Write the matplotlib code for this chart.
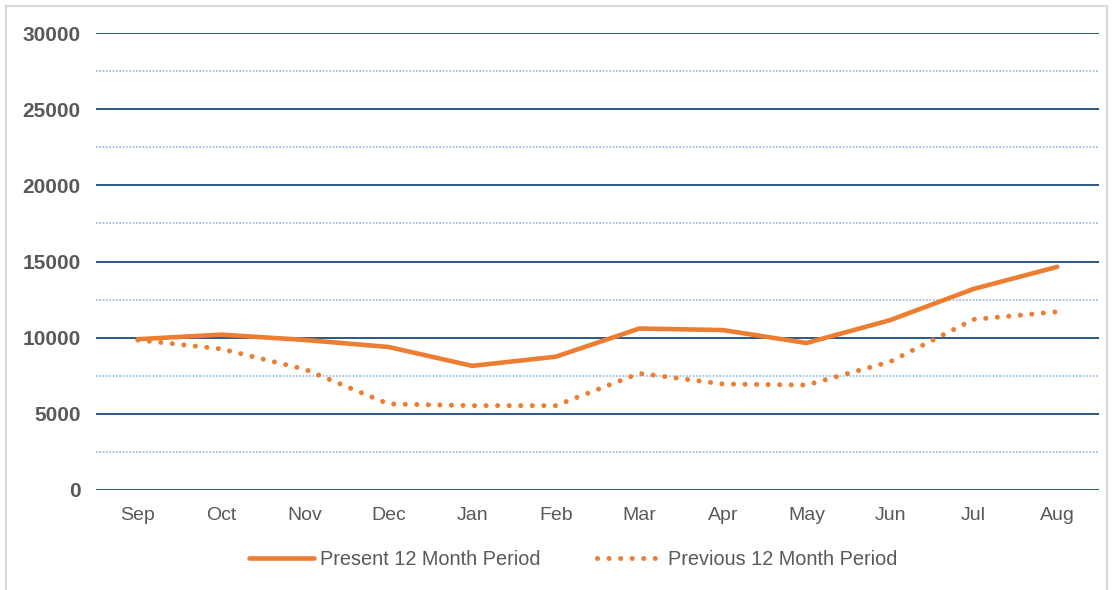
import matplotlib.pyplot as plt
from matplotlib.patches import Rectangle

months = ['Sep', 'Oct', 'Nov', 'Dec', 'Jan', 'Feb', 'Mar', 'Apr', 'May', 'Jun', 'Jul', 'Aug']
present = [9900, 10200, 9850, 9390, 8150, 8750, 10600, 10500, 9650, 11150, 13200, 14650]
previous = [9850, 9260, 7920, 5650, 5540, 5540, 7660, 6960, 6890, 8420, 11200, 11700]

plt.rcParams['font.family'] = ['Liberation Sans', 'DejaVu Sans']

orange = '#ED7D31'
dark_blue = '#2B5783'
light_blue = '#8DB8E2'

fig = plt.figure(figsize=(11.13, 5.90), dpi=100)
ax = fig.add_axes([0.0863, 0.1695, 0.9011, 0.7745])

# outer border
fig.patches.append(Rectangle((0.005, -0.01), 0.99, 1.0, transform=fig.transFigure,
                             fill=False, edgecolor='#D9D9D9', linewidth=1.5))

x = list(range(len(months)))
ax.set_xlim(-0.5, len(months) - 0.5)
ax.set_ylim(0, 30000)

# gridlines
for v in range(0, 30001, 5000):
    ax.axhline(v, color=dark_blue, linewidth=1.4, zorder=1)
for v in range(2500, 30000, 5000):
    ax.axhline(v, color=light_blue, linewidth=1.2, linestyle=(0, (1, 1)), zorder=1)

ax.plot(x, present, color=orange, linewidth=3.3, solid_capstyle='round',
        solid_joinstyle='round', label='Present 12 Month Period', zorder=3)
ax.plot(x, previous, color=orange, linewidth=3.6, linestyle=(0, (0.01, 2.3)),
        dash_capstyle='round', label='Previous 12 Month Period', zorder=3)

ax.set_xticks(x)
ax.set_xticklabels(months, fontsize=14, color='#595959')
ax.set_yticks(range(0, 30001, 5000))
ax.set_yticklabels([str(v) for v in range(0, 30001, 5000)], fontsize=15,
                   fontweight='bold', color='#595959')
ax.tick_params(axis='both', length=0)
ax.tick_params(axis='x', pad=12)
ax.tick_params(axis='y', pad=11)
for s in ax.spines.values():
    s.set_visible(False)

leg = fig.legend(loc='center', bbox_to_anchor=(0.515, 0.052), ncol=2, frameon=False,
                 fontsize=14.3, handlelength=3.3, columnspacing=2.8, handletextpad=0.3)
for t in leg.get_texts():
    t.set_color('#595959')

fig.savefig('out.png', dpi=100)
